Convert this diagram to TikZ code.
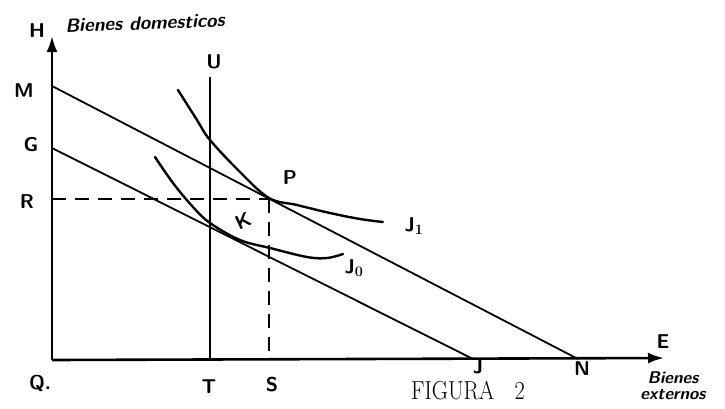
\documentclass[tikz,border=0pt]{standalone}
\usetikzlibrary{arrows.meta}
\begin{document}
\begin{tikzpicture}[x=1pt,y=-1pt,
  axis/.style={line width=2.6pt,-{Latex[length=16pt,width=11pt]}},
  budget/.style={line width=1.8pt},
  guide/.style={line width=1.8pt,dash pattern=on 14pt off 9pt},
  curve/.style={line width=2.4pt,line cap=round},
  lbl/.style={font=\sffamily\bfseries\fontsize{20}{20}\selectfont,inner sep=0pt},
  small/.style={font=\sffamily\bfseries\itshape\fontsize{19}{19}\selectfont,inner sep=0pt}]
\useasboundingbox (0,0) rectangle (725,408);
% key points
\coordinate (O) at (52,360);
\coordinate (Ytop) at (52,36);
\coordinate (Xend) at (664,358);
\coordinate (Mp) at (52,86);
\coordinate (Np) at (578,359);
\coordinate (Gp) at (52,148);
\coordinate (Jp) at (473,359);
\coordinate (Utop) at (210,77);
\coordinate (Tp) at (210,360);
\coordinate (Rp) at (52,199);
\coordinate (Pp) at (269,199);
\coordinate (Sp) at (269,359);
% axes
\draw[axis] (O) -- (Ytop);
\draw[axis] (O) -- (Xend);
% budget lines
\draw[budget] (Mp) -- (Np);
\draw[budget] (Gp) -- (Jp);
% U line
\draw[line width=2.2pt] (Utop) -- (Tp);
% dashed guides
\draw[guide] (Rp) -- (Pp);
\draw[guide] (Pp) -- (Sp);
% indifference curves
\draw[curve] plot[smooth,tension=0.6] coordinates {(178,90) (197,120) (210,140) (240,172) (269,198) (297,205) (330,213) (360,219) (383,222)};
\draw[curve] plot[smooth,tension=0.6] coordinates {(155,157) (173,183) (193,207) (210,223) (240,240) (270,248) (307,257) (327,258) (343,254)};
% labels
\node[lbl] (H) at (37,31) {H};
\node[small,rotate=2] (Hlab) at (145,23) {Bienes domesticos};
\node[lbl] (U) at (214,62) {U};
\node[lbl] (M) at (24,91) {M};
\node[lbl] (G) at (31,145) {G};
\node[lbl] (R) at (27,202) {R};
\node[lbl] (P) at (290,178) {P};
\node[lbl,rotate=25] (K) at (243,221) {K};
\node[lbl] (J1) at (414,226) {J$_{\mathbf 1}$};
\node[lbl] (J0) at (354,268) {J$_{\mathbf 0}$};
\node[lbl] (Q) at (40,383) {Q.};
\node[lbl] (T) at (209,387) {T};
\node[lbl] (S) at (272,385) {S};
\node[lbl] (J) at (478,367) {J};
\node[lbl] (N) at (582,369) {N};
\node[lbl] (E) at (663,342) {E};
\node[small,font=\sffamily\bfseries\itshape\fontsize{17}{17}\selectfont] (Bx1) at (673,378) {Bienes};
\node[small,font=\sffamily\bfseries\itshape\fontsize{17}{17}\selectfont] (Bx2) at (673,395) {externos};
\node[inner sep=0pt,font=\fontsize{26}{26}\selectfont,xscale=0.86] (fig) at (468,391) {FIGURA\ \ \ 2};
\end{tikzpicture}
\end{document}
